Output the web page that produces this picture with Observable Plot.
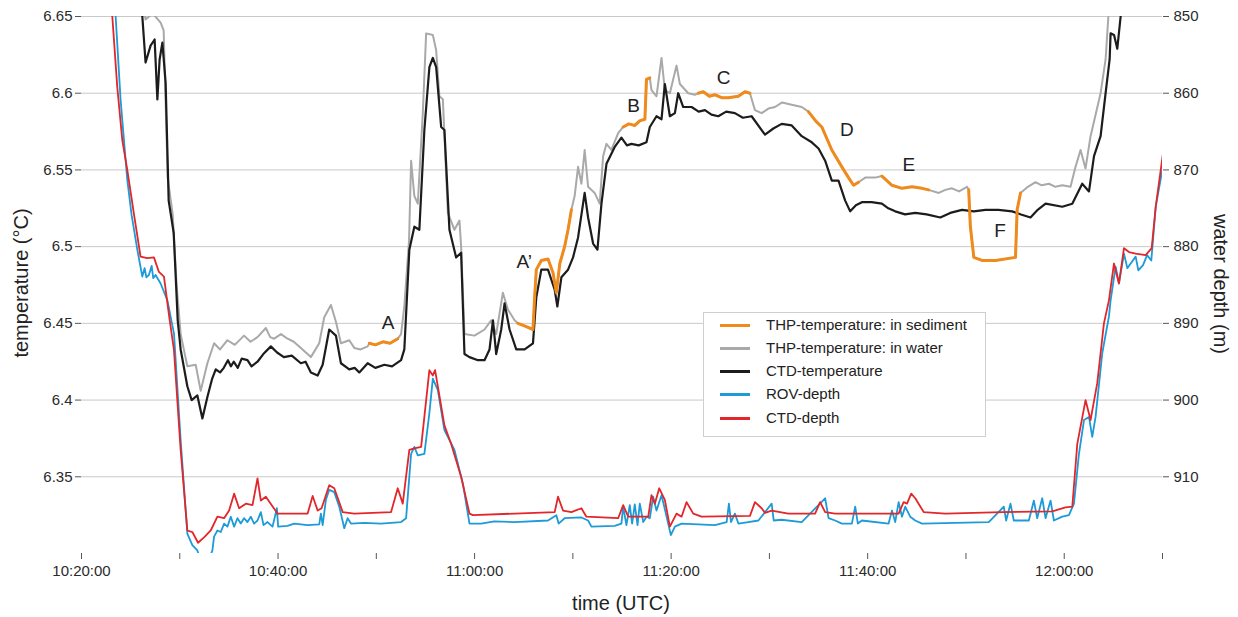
<!DOCTYPE html>
<html><head><meta charset="utf-8">
<script src="https://cdn.jsdelivr.net/npm/d3@7"></script>
<script src="https://cdn.jsdelivr.net/npm/@observablehq/plot@0.6"></script>
<style>
body{margin:0;background:#fff;font-family:"Liberation Sans",Arial,sans-serif;}
#wrap{position:relative;width:1238px;height:617px;}
.ttl{position:absolute;font-size:20px;color:#222;white-space:nowrap;line-height:24px;}
#legend{position:absolute;left:703px;top:312px;width:281px;height:123px;border:1px solid #cfcfcf;background:#fff;}
.row{position:absolute;left:16px;height:20px;font-size:15px;color:#222;width:260px;}
.sw{position:absolute;left:0;top:9px;width:30px;height:3px;}
.lab{position:absolute;left:46px;top:0;white-space:nowrap;line-height:20px;}
</style></head>
<body>
<div id="wrap"></div>
<script>
// time values: minutes after 10:00:00 UTC
const ctdTemp = [
[25.81,6.674],[26.19,6.650],[26.52,6.620],[27.03,6.631],[27.44,6.635],[27.72,6.596],[27.95,6.622],[28.23,6.633],
[28.56,6.607],[28.87,6.530],[29.38,6.509],[29.79,6.452],[30.09,6.433],[30.77,6.409],[31.21,6.400],[31.79,6.403],
[32.30,6.388],[32.81,6.402],[33.30,6.414],[33.66,6.420],[34.10,6.418],[34.48,6.421],[34.90,6.426],[35.20,6.422],
[35.49,6.425],[35.90,6.421],[36.30,6.427],[36.89,6.426],[37.30,6.422],[37.91,6.425],[38.50,6.430],[39.27,6.435],
[39.90,6.431],[40.59,6.428],[41.40,6.429],[42.32,6.424],[42.80,6.425],[43.34,6.418],[44.03,6.416],[44.54,6.423],
[45.21,6.446],[45.89,6.442],[46.40,6.424],[47.25,6.420],[47.80,6.421],[48.27,6.418],[49.12,6.424],[49.90,6.421],
[50.82,6.423],[51.60,6.422],[52.52,6.426],[52.85,6.433],[53.36,6.498],[53.87,6.513],
[54.38,6.511],[54.89,6.576],[55.40,6.617],[55.75,6.623],[56.09,6.617],[56.60,6.578],[56.93,6.576],[57.44,6.511],
[58.12,6.493],[58.63,6.496],[58.97,6.430],[59.48,6.428],[60.34,6.426],[61.01,6.426],[61.52,6.433],[61.87,6.452],
[62.20,6.430],[62.71,6.446],[63.05,6.463],[63.56,6.446],[64.24,6.433],[65.09,6.433],[65.94,6.437],[66.28,6.467],
[66.79,6.485],[67.47,6.485],[68.15,6.472],[68.42,6.461],[68.83,6.480],[69.51,6.485],[70.02,6.493],[70.53,6.506],
[71.20,6.535],[71.55,6.519],[72.06,6.502],[72.50,6.498],[72.91,6.528],[73.42,6.554],[74.26,6.565],[74.94,6.571],
[75.50,6.566],[75.96,6.567],[76.70,6.566],[77.49,6.568],[77.83,6.578],[78.51,6.585],[79.02,6.583],[79.36,6.606],[79.87,6.585],[80.38,6.587],
[80.72,6.600],[81.23,6.591],[82.08,6.591],[82.80,6.588],[83.44,6.589],[84.10,6.586],[84.80,6.585],[85.60,6.588],[86.49,6.587],[87.30,6.584],[88.19,6.585],[89.55,6.573],
[90.40,6.577],[91.25,6.580],[92.27,6.579],[93.29,6.572],[94.31,6.568],[95.00,6.564],[95.67,6.556],[96.35,6.543],[97.03,6.543],[97.71,6.530],
[98.22,6.523],[98.80,6.527],[99.41,6.529],[100.40,6.529],[101.45,6.528],[102.10,6.525],[102.80,6.523],[103.80,6.521],[104.84,6.522],[106.00,6.521],[107.39,6.519],[108.40,6.522],[109.60,6.524],[110.80,6.523],[111.98,6.524],
[113.30,6.524],[114.70,6.523],[115.60,6.521],[116.57,6.519],[117.30,6.524],[118.10,6.528],[119.80,6.526],[120.82,6.528],[121.83,6.541],[122.52,6.536],[123.03,6.559],
[123.70,6.572],[124.21,6.600],[124.62,6.622],[124.72,6.639],[125.07,6.638],[125.40,6.629],[125.74,6.650],[126.01,6.674]
];
const thpTemp = [
[26.01,6.667],[26.52,6.648],[27.24,6.652],[28.05,6.646],[28.36,6.641],[28.77,6.545],[29.28,6.521],[29.68,6.475],
[30.09,6.443],[30.77,6.422],[31.62,6.423],[32.13,6.406],[32.81,6.424],[33.49,6.437],[34.10,6.433],[34.85,6.439],[35.60,6.436],[36.54,6.442],
[37.20,6.438],[37.91,6.441],[38.76,6.447],[39.20,6.441],[39.60,6.440],[40.30,6.443],[40.97,6.440],[41.60,6.438],[42.32,6.434],[43.34,6.428],[44.19,6.437],[44.70,6.454],
[45.38,6.462],[45.89,6.451],[46.40,6.437],[47.25,6.439],[47.76,6.434],[48.40,6.433],[49.12,6.435],[49.29,6.437],[49.90,6.436],[50.68,6.438],[51.40,6.437],
[52.18,6.440],[52.52,6.443],[52.85,6.461],[53.33,6.504],[53.54,6.556],[53.87,6.533],[54.22,6.528],[54.73,6.587],
[55.07,6.639],[55.75,6.638],[56.09,6.628],[56.42,6.598],[56.77,6.596],[57.28,6.522],[57.95,6.511],[58.46,6.517],
[58.63,6.500],[58.97,6.443],[59.99,6.442],[61.01,6.446],[61.69,6.452],[62.20,6.443],[62.88,6.470],[63.39,6.459],
[64.07,6.452],[64.41,6.450],[65.20,6.448],[65.94,6.446],[66.11,6.467],[66.28,6.485],[66.79,6.491],[67.47,6.492],[67.98,6.483],
[68.32,6.470],[68.67,6.489],[69.16,6.500],[69.51,6.511],[69.85,6.524],[70.18,6.533],[70.53,6.552],[70.87,6.541],
[71.20,6.563],[71.55,6.539],[72.22,6.535],[72.73,6.528],[73.08,6.559],[73.42,6.567],[73.92,6.563],[74.61,6.574],
[75.12,6.578],[75.70,6.580],[76.31,6.579],[76.80,6.582],[77.33,6.583],[77.49,6.609],[77.83,6.610],[78.00,6.602],[78.51,6.598],[79.02,6.623],
[79.36,6.602],[79.87,6.600],[80.55,6.618],[80.89,6.606],[81.74,6.600],[82.42,6.599],[82.76,6.600],[83.27,6.601],
[83.90,6.598],[84.45,6.599],[85.20,6.597],[85.82,6.597],[86.84,6.598],[87.51,6.601],[88.02,6.600],[88.53,6.589],[89.21,6.587],[89.90,6.590],[90.57,6.591],
[91.30,6.594],[91.93,6.593],[93.29,6.591],[93.97,6.588],[94.70,6.582],[95.33,6.578],[96.35,6.563],[97.37,6.552],[98.05,6.545],[98.56,6.540],
[99.07,6.542],[99.75,6.545],[100.77,6.545],[101.45,6.546],[102.47,6.540],[103.49,6.538],[104.51,6.539],[105.53,6.538],
[106.21,6.537],[107.23,6.535],[107.90,6.537],[108.58,6.538],[109.30,6.536],[110.11,6.539],[110.28,6.537],[110.45,6.513],[110.80,6.493],[111.64,6.491],
[113.00,6.491],[115.04,6.493],[115.21,6.524],[115.55,6.535],[116.30,6.539],[117.08,6.542],[117.70,6.540],[118.44,6.541],[119.10,6.539],[119.80,6.540],[120.64,6.539],
[121.15,6.552],[121.66,6.563],[122.17,6.551],[122.68,6.572],[123.19,6.586],[123.70,6.600],[124.21,6.622],[124.49,6.650],
[124.79,6.674]
];
// sediment intervals (minutes after 10:00) with their labels
const sedimentLabels = ["A","A\u2019","B","C","D","E","F"];
const sedimentStart = [49.29, 64.41, 75.12, 82.76, 93.97, 101.45, 110.28];
const sedimentEnd   = [52.18, 69.85, 77.83, 88.02, 99.07, 106.21, 115.55];
const labelTime = [51.19, 65.06, 76.17, 85.34, 97.88, 104.20, 113.48];
const labelTemp = [6.450, 6.490, 6.592, 6.610, 6.576, 6.553, 6.510];

const ctdDepth = [
[22.75,845.2],[23.13,849.9],[23.64,859.2],[24.15,866.1],[24.66,870.0],[25.33,875.7],[26.01,881.3],[26.70,881.5],
[27.37,881.4],[27.88,883.3],[28.39,883.9],[28.90,888.9],[29.41,893.5],[30.09,906.5],[30.77,917.0],[31.28,917.2],
[31.86,918.6],[32.47,917.9],[33.15,917.0],[33.83,915.2],[34.51,915.4],[35.02,914.4],[35.53,912.2],[36.04,914.1],
[36.72,913.5],[37.40,913.7],[37.91,910.2],[38.25,913.1],[38.76,912.6],[39.95,914.8],[43.01,914.8],[43.52,912.5],
[44.03,914.4],[44.43,914.1],[45.21,911.1],[45.72,911.5],[46.58,914.6],[47.76,914.8],[51.50,914.6],[52.18,911.5],
[52.69,913.5],[53.36,906.5],[53.87,906.3],[54.56,906.1],[55.40,896.1],[55.75,896.8],[55.98,896.1],[56.93,903.3],
[57.61,905.7],[58.63,910.0],[59.48,914.8],[59.83,915.0],[68.15,914.6],[68.49,912.6],[69.00,914.4],[69.85,914.6],
[70.87,914.1],[71.38,915.2],[74.61,915.4],[75.12,913.7],[75.63,915.2],[77.67,915.2],[78.00,912.4],[78.34,913.5],
[78.79,911.5],[79.36,913.0],[79.87,916.5],[80.55,914.8],[81.06,915.2],[81.57,913.3],[82.25,914.8],[83.10,915.2],
[88.02,915.1],[88.53,913.3],[89.21,914.1],[89.55,914.7],[90.23,914.4],[91.93,914.8],[94.65,914.8],[95.16,913.3],
[95.67,914.6],[96.69,914.8],[103.15,914.8],[103.66,913.3],[104.00,913.5],[104.43,912.2],[104.84,912.8],[105.70,914.6],
[107.90,914.8],[113.68,914.6],[118.78,914.5],[120.13,914.0],[120.82,913.9],[121.33,905.7],[122.17,900.0],[122.68,902.6],
[123.36,897.8],[124.04,890.0],[124.55,887.0],[125.06,882.2],[125.57,884.8],[126.08,880.2],[126.59,880.7],[127.27,880.9],
[128.29,881.1],[128.90,880.2],[129.31,874.8],[130.16,866.8],[130.50,863.5]
];
const rovDepth = [
[23.16,845.2],[23.47,849.9],[23.98,860.9],[24.66,871.3],[25.10,875.9],[25.68,880.4],[25.91,882.0],[26.19,883.9],
[26.42,882.8],[26.60,884.0],[26.86,883.7],[27.14,882.5],[27.30,884.1],[27.54,883.7],[28.05,884.8],[28.74,887.0],[29.41,891.3],[30.09,905.2],
[30.77,917.4],[31.28,918.9],[31.79,919.6],[32.13,920.9],[32.81,921.3],[33.32,919.6],[33.49,917.8],[33.83,917.0],[34.17,917.2],
[34.51,916.1],[34.85,916.5],[35.19,915.2],[35.53,916.5],[35.87,915.4],[36.21,916.1],[36.54,915.4],[36.89,915.9],
[37.23,915.2],[37.56,916.1],[37.91,915.7],[38.25,914.6],[38.52,916.3],[38.93,915.9],[39.44,916.5],[39.88,914.1],
[40.01,916.5],[40.97,916.4],[41.64,916.1],[43.01,916.3],[44.19,916.2],[44.36,914.8],[44.54,916.3],[44.87,913.0],
[45.21,911.7],[45.72,912.0],[46.23,913.9],[46.74,916.7],[47.08,915.4],[47.42,916.1],[48.78,916.0],[50.48,916.1],
[52.52,915.9],[53.03,915.4],[53.54,907.0],
[53.87,906.1],[54.22,907.2],[54.89,907.0],[55.40,901.7],[55.75,897.2],[56.26,898.7],[56.93,903.9],[57.95,906.5],
[58.81,910.9],[59.48,916.1],[60.67,916.1],[62.00,915.8],[64.07,915.9],[67.47,915.7],[68.32,915.0],[68.55,916.1],
[69.16,915.4],[70.87,915.3],[71.55,915.7],[71.89,916.5],[74.26,916.4],[74.94,916.1],[75.12,913.9],[75.45,916.3],
[75.79,913.7],[76.03,916.1],[76.30,913.6],[76.58,916.3],[76.81,913.5],[77.16,915.9],[77.49,915.2],[77.83,915.4],
[78.17,912.6],[78.51,914.4],[79.02,912.4],[79.30,913.9],[79.70,916.1],[79.97,917.6],[80.38,916.5],[81.06,916.1],
[84.45,916.3],[85.65,915.9],[85.88,913.5],[86.09,915.9],[86.49,914.8],[86.84,916.1],[87.86,915.9],[88.88,915.7],
[90.23,913.5],[90.44,915.7],[91.25,915.6],[93.29,915.9],[95.67,912.8],[96.02,915.4],[96.69,915.7],[97.37,916.1],
[98.39,916.1],[98.73,913.9],[99.00,916.1],[99.41,915.7],[102.13,916.1],[102.47,914.4],[102.80,915.9],[103.15,913.3],
[103.49,915.2],[103.82,913.9],[104.33,915.2],[104.84,915.7],[105.53,916.1],[108.92,916.0],[112.32,915.9],[113.85,913.9],
[114.09,915.7],[114.53,913.5],[114.87,915.7],[116.40,915.7],[116.91,913.1],[117.25,915.4],[117.76,912.8],[118.10,915.4],
[118.61,913.1],[118.95,915.7],[119.80,915.2],[120.48,915.0],[120.99,913.5],
[121.50,907.0],[122.01,902.6],[122.52,902.2],[122.85,904.8],[123.19,902.2],
[123.87,893.9],[124.55,889.1],[124.72,887.0],[125.23,882.6],[125.57,884.8],[126.08,880.9],[126.42,882.8],[126.76,882.2],
[127.27,881.3],[127.54,883.1],[128.02,882.4],[128.43,881.1],[128.86,881.8],[129.31,874.8],[130.16,868.7],[130.50,865.5]
];
const tempTicks = [6.35, 6.40, 6.45, 6.50, 6.55, 6.60, 6.65];
const depthTicks = [850, 860, 870, 880, 890, 900, 910];
const legendNames = ["THP-temperature: in sediment","THP-temperature: in water","CTD-temperature","ROV-depth","CTD-depth"];
const colors = {sed:"#ef8a1d", water:"#a9a9a9", ctdT:"#1c1c1c", rov:"#1d9ad8", ctdD:"#e2262a"};

const base = Date.UTC(2013,0,1,10,0,0);
const toDate = m => new Date(base + m*60000);
// depth axis mapped onto the temperature axis (850 m ↔ 6.65 °C, 920 m ↔ 6.30 °C)
const dToT = d => 6.65 - (d - 850) * 0.005;

const ctdT = ctdTemp.map(([m,v]) => ({t:toDate(m), y:v}));
const thpT = thpTemp.map(([m,v]) => ({t:toDate(m), y:v}));
const sed = [];
sedimentLabels.forEach((lab,i) => {
  thpTemp.forEach(([m,v]) => { if (m >= sedimentStart[i] - 1e-9 && m <= sedimentEnd[i] + 1e-9) sed.push({t:toDate(m), y:v, seg:lab}); });
});
const ctdD = ctdDepth.map(([m,v]) => ({t:toDate(m), y:dToT(v)}));
const rovD = rovDepth.map(([m,v]) => ({t:toDate(m), y:dToT(v)}));
const labels = sedimentLabels.map((s,i) => ({t:toDate(labelTime[i]), y:labelTemp[i], s}));

const fmtTime = d3.utcFormat("%H:%M:%S");
const plot = Plot.plot({
  width: 1238, height: 617,
  marginLeft: 81, marginRight: 76, marginTop: 16, marginBottom: 64,
  style: {fontFamily: '"Liberation Sans", Arial, sans-serif', fontSize: "15px", color: "#2a2a2a", background: "#fff"},
  x: {type: "utc", domain: [toDate(20), toDate(130)]},
  y: {domain: [6.30, 6.65]},
  marks: [
    Plot.gridY(tempTicks, {stroke: "#c9c9c9", strokeOpacity: 1, strokeWidth: 1}),
    Plot.line(rovD, {x:"t", y:"y", stroke: colors.rov, strokeWidth: 1.8, clip: true}),
    Plot.line(ctdD, {x:"t", y:"y", stroke: colors.ctdD, strokeWidth: 1.8, clip: true}),
    Plot.line(thpT, {x:"t", y:"y", stroke: colors.water, strokeWidth: 2, clip: true}),
    Plot.line(ctdT, {x:"t", y:"y", stroke: colors.ctdT, strokeWidth: 2.2, clip: true}),
    Plot.line(sed, {x:"t", y:"y", z:"seg", stroke: colors.sed, strokeWidth: 3, clip: true}),
    Plot.text(labels, {x:"t", y:"y", text:"s", fontSize: 19, fill: "#222"}),
    Plot.axisY(tempTicks, {anchor: "left", tickSize: 6, tickPadding: 3, line: true, stroke: "#555",
      tickFormat: d => String(+d.toFixed(2)), label: null}),
    Plot.axisY(tempTicks, {anchor: "right", tickSize: 6, tickPadding: 5, line: true, stroke: "#555",
      tickFormat: d => String(depthTicks[tempTicks.length - 1 - tempTicks.indexOf(d)]), label: null}),
    Plot.axisX({ticks: d3.utcMinute.every(10), tickSize: 6, tickPadding: 6, line: true, stroke: "#555",
      tickFormat: d => d.getUTCMinutes() % 20 === 0 ? fmtTime(d) : "", label: null})
  ]
});
const wrap = document.getElementById("wrap");
wrap.appendChild(plot);

function addTitle(text, css) {
  const d = document.createElement("div");
  d.className = "ttl"; d.textContent = text; Object.assign(d.style, css);
  wrap.appendChild(d);
}
addTitle("time (UTC)", {left: "621px", top: "603px", transform: "translate(-50%,-50%)"});
addTitle("temperature (\u00B0C)", {left: "21px", top: "283px", transform: "translate(-50%,-50%) rotate(-90deg)"});
addTitle("water depth (m)", {left: "1221px", top: "284px", transform: "translate(-50%,-50%) rotate(90deg)"});

const leg = document.createElement("div"); leg.id = "legend";
const legColors = [colors.sed, colors.water, colors.ctdT, colors.rov, colors.ctdD];
const rowTops = [2, 25, 48, 71, 95];
legendNames.forEach((n,i) => {
  const r = document.createElement("div"); r.className = "row"; r.style.top = rowTops[i] + "px";
  const s = document.createElement("div"); s.className = "sw"; s.style.background = legColors[i];
  const l = document.createElement("div"); l.className = "lab"; l.textContent = n;
  r.appendChild(s); r.appendChild(l); leg.appendChild(r);
});
wrap.appendChild(leg);
</script>
</body></html>
